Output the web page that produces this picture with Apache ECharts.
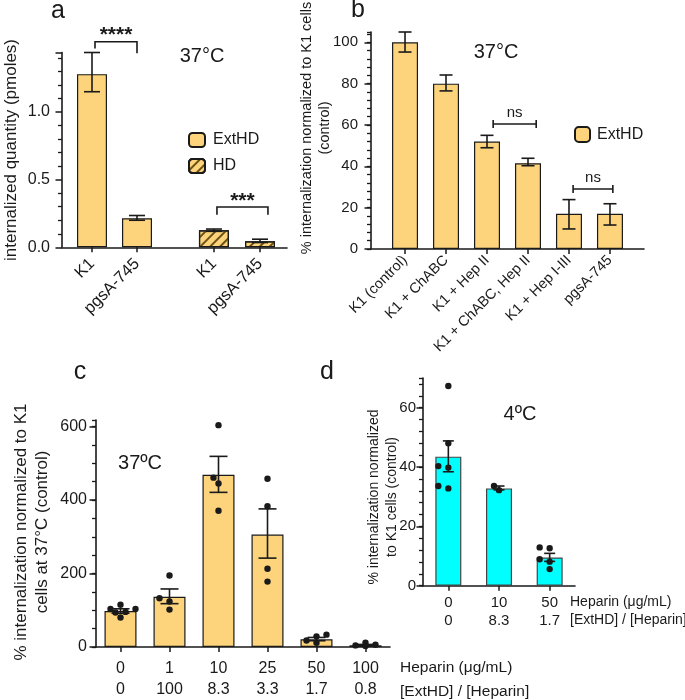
<!DOCTYPE html>
<html>
<head>
<meta charset="utf-8">
<script src="https://cdn.jsdelivr.net/npm/echarts@6/dist/echarts.min.js"></script>
<style>
  html, body { margin: 0; padding: 0; background: #fff; }
  #main { width: 685px; height: 700px; }
</style>
</head>
<body>
<div id="main"></div>
<script>
// panel a: internalized quantity (pmoles)
const aCats = ['K1', 'pgsA-745', 'K1', 'pgsA-745'];
const aExtHD = [1.28, 0.215];
const aHD = [0.126, 0.045];
const aExtHDErr = [[1.15, 1.44], [0.20, 0.235]];
const aHDErr = [[0.118, 0.135], [0.035, 0.06]];
const aTicks = [0, 0.5, 1.0];

// panel b: % internalization, ExtHD
const bCats = ['K1 (control)', 'K1 + ChABC', 'K1 + Hep II', 'K1 + ChABC, Hep II', 'K1 + Hep I-III', 'pgsA-745'];
const bValues = [100, 80, 52, 41.5, 17, 17];
const bErr = [[95.3, 105], [76.5, 84.2], [49, 55], [40.3, 43.9], [9.7, 23.9], [11.6, 21.9]];
const bTicks = [0, 20, 40, 60, 80, 100];

// panel c: heparin at 37C
const cHeparin = ['0', '1', '10', '25', '50', '100'];
const cRatio = ['0', '100', '8.3', '3.3', '1.7', '0.8'];
const cValues = [98, 137, 469, 306, 21, 5];
const cErr = [[92, 104], [118, 158], [421, 519], [242, 376], [17, 26], [3.5, 7]];
const cDots = [
  [80.5, 94, 95.6, 103.5, 103.5, 115],
  [101.8, 124, 132.7, 194.7],
  [371, 445, 461, 604],
  [178, 213, 383, 458],
  [11.5, 17.7, 29, 33.6],
  [2.7, 4.4, 6.2, 11.5]
];
const cTicks = [0, 200, 400, 600];

// panel d: heparin at 4C
const dHeparin = ['0', '10', '50'];
const dRatio = ['0', '8.3', '1.7'];
const dValues = [43.5, 32.8, 9.5];
const dErr = [[38.4, 48.8], [32.3, 33.6], [8.2, 10.9]];
const dDots = [
  [32.8, 33.6, 39.8, 40.3, 48, 67.3],
  [32.2, 33.6],
  [5.6, 8.1, 8.9, 12.6, 12.9]
];
const dTicks = [0, 20, 40, 60];

// layout
const FONT = '"Liberation Sans", Arial, sans-serif';
const INK = '#1a1a1a';
const YELLOW = '#FDD47C';
const CYAN = '#00FFFF';
const aSlots = [2, 5, 10.13, 13.2];
const bSlots = [0, 1, 2, 3, 4, 5];

// main axis: line, labels, long major ticks; twin axis: short ticks every minorStep
function yPair(grid, max, majors, minorStep, fmt, fontSize, margin) {
  return [
    {
      type: 'value', gridIndex: grid, position: 'left', min: 0, max: max,
      axisLine: { show: true, onZero: false, lineStyle: { color: INK, width: 1.6 } },
      axisTick: { show: true, customValues: majors, length: 6.5, lineStyle: { color: INK, width: 1.5 } },
      axisLabel: { customValues: majors, formatter: fmt, fontSize: fontSize, color: INK, fontFamily: FONT, margin: margin },
      splitLine: { show: false }
    },
    {
      type: 'value', gridIndex: grid, position: 'left', min: 0, max: max, interval: minorStep,
      axisLine: { show: false, onZero: false },
      axisTick: { show: true, length: 4, lineStyle: { color: INK, width: 1.3 } },
      axisLabel: { show: false },
      splitLine: { show: false }
    }
  ];
}

// panel a: a single axis, short ticks come from minorTick
function yMinor(grid, max, majors, majorStep, split, fmt, fontSize, margin) {
  return [{
    type: 'value', gridIndex: grid, position: 'left', min: 0, max: max, interval: majorStep,
    axisLine: { show: true, onZero: false, lineStyle: { color: INK, width: 1.6 } },
    axisTick: { show: true, length: 6.5, lineStyle: { color: INK, width: 1.5 } },
    minorTick: { show: true, splitNumber: split, length: 4, lineStyle: { color: INK, width: 1.3 } },
    axisLabel: { customValues: majors, formatter: fmt, fontSize: fontSize, color: INK, fontFamily: FONT, margin: margin },
    splitLine: { show: false }
  }];
}

function errRender(halfCap) {
  return function (params, api) {
    const x = api.value(0);
    const lo = api.coord([x, api.value(1)]);
    const hi = api.coord([x, api.value(2)]);
    const st = { stroke: INK, lineWidth: 1.6 };
    return {
      type: 'group', children: [
        { type: 'line', shape: { x1: lo[0], y1: lo[1], x2: hi[0], y2: hi[1] }, style: st },
        { type: 'line', shape: { x1: lo[0] - halfCap, y1: lo[1], x2: lo[0] + halfCap, y2: lo[1] }, style: st },
        { type: 'line', shape: { x1: hi[0] - halfCap, y1: hi[1], x2: hi[0] + halfCap, y2: hi[1] }, style: st }
      ]
    };
  };
}

// simple beeswarm so dots with close values sit side by side
const OFFSETS = [0, -5, 5, -10, 10, -15, 15];
function dotsRender(groups) {
  return function (params, api) {
    const idx = api.value(0);
    const pts = groups[idx].map(v => api.coord([idx, v]));
    const placed = [];
    pts.forEach(p => {
      let spot = null;
      for (const o of OFFSETS) {
        const x = p[0] + o;
        if (placed.every(q => Math.hypot(q[0] - x, q[1] - p[1]) >= 6)) { spot = [x, p[1]]; break; }
      }
      placed.push(spot || p);
    });
    return {
      type: 'group',
      children: placed.map(q => ({ type: 'circle', shape: { cx: q[0], cy: q[1], r: 3.2 }, style: { fill: INK } }))
    };
  };
}

const axisLine = { show: true, onZero: false, lineStyle: { color: INK, width: 1.6 } };
const tickDown = { show: true, length: 5, lineStyle: { color: INK, width: 1.5 } };
const barBorder = { borderColor: INK, borderWidth: 1.2 };

const option = {
  animation: false,
  textStyle: { fontFamily: FONT },
  grid: [
    { left: 62, top: 52.5, width: 225, height: 194.8 },
    { left: 371, top: 32, width: 273, height: 217 },
    { left: 96, top: 420, width: 294, height: 232.7 },
    { left: 423, top: 378, width: 152, height: 207.7 }
  ],
  xAxis: [
    {
      type: 'value', gridIndex: 0, min: 0, max: 15,
      axisLine: axisLine, splitLine: { show: false },
      axisTick: Object.assign({ customValues: aSlots }, tickDown),
      axisLabel: {
        customValues: aSlots, rotate: 45, margin: 14, fontSize: 16.5, color: INK, fontFamily: FONT,
        formatter: v => aCats[aSlots.indexOf(v)]
      }
    },
    {
      type: 'value', gridIndex: 1, min: -0.83, max: 5.83,
      axisLine: axisLine, splitLine: { show: false },
      axisTick: Object.assign({ customValues: bSlots }, tickDown),
      axisLabel: {
        customValues: bSlots, rotate: 45, margin: 9, fontSize: 14.5, color: INK, fontFamily: FONT,
        formatter: v => bCats[bSlots.indexOf(v)]
      }
    },
    {
      type: 'category', gridIndex: 2, data: cHeparin,
      axisLine: axisLine,
      axisTick: Object.assign({ alignWithLabel: true }, tickDown),
      axisLabel: {
        margin: 11, fontSize: 16, lineHeight: 21, color: INK, fontFamily: FONT,
        formatter: (v, i) => cHeparin[i] + '\n' + cRatio[i]
      }
    },
    {
      type: 'category', gridIndex: 3, data: dHeparin,
      axisLine: axisLine,
      axisTick: Object.assign({ alignWithLabel: true }, tickDown),
      axisLabel: {
        margin: 8, fontSize: 15, lineHeight: 18, color: INK, fontFamily: FONT,
        formatter: (v, i) => dHeparin[i] + '\n' + dRatio[i]
      }
    }
  ],
  yAxis: [].concat(
    yMinor(0, 1.44, aTicks, 0.5, 5, v => v.toFixed(1), 16, 12),
    yPair(1, 105, bTicks, 4, v => String(v), 15, 13),
    yPair(2, 618, cTicks, 50, v => String(v), 16, 9),
    yPair(3, 70, dTicks, 4, v => String(v), 15, 7)
  ),
  legend: [
    {
      left: 183, top: 127, orient: 'vertical', itemWidth: 16, itemHeight: 14, itemGap: 10,
      data: ['ExtHD', 'HD'], selectedMode: false,
      textStyle: { fontSize: 16, color: INK, fontFamily: FONT, padding: [0, 0, 0, 3] }
    },
    {
      left: 569, top: 121, itemWidth: 15, itemHeight: 15,
      data: ['ExtHD'], selectedMode: false,
      textStyle: { fontSize: 16, color: INK, fontFamily: FONT, padding: [0, 0, 0, 2] }
    }
  ],
  series: [
    {
      name: 'ExtHD', type: 'bar', xAxisIndex: 0, yAxisIndex: 0, barWidth: 30, barGap: '-100%',
      itemStyle: Object.assign({ color: YELLOW }, barBorder),
      data: aExtHD.map((v, i) => [aSlots[i], v])
    },
    {
      name: 'HD', type: 'bar', xAxisIndex: 0, yAxisIndex: 0, barWidth: 30, barGap: '-100%',
      itemStyle: Object.assign({
        color: YELLOW,
        decal: {
          symbol: 'rect', symbolSize: 1, dashArrayX: [1, 0], dashArrayY: [2, 4.5],
          rotation: -Math.PI / 4, color: '#6b5316'
        }
      }, barBorder),
      data: aHD.map((v, i) => [aSlots[i + 2], v])
    },
    {
      type: 'custom', xAxisIndex: 0, yAxisIndex: 0, renderItem: errRender(8), z: 5,
      data: aExtHDErr.concat(aHDErr).map((e, i) => [aSlots[i], e[0], e[1]])
    },
    {
      name: 'ExtHD', type: 'bar', xAxisIndex: 1, yAxisIndex: 1, barWidth: 26,
      itemStyle: Object.assign({ color: YELLOW }, barBorder),
      data: bValues.map((v, i) => [bSlots[i], v])
    },
    {
      type: 'custom', xAxisIndex: 1, yAxisIndex: 1, renderItem: errRender(6.5), z: 5,
      data: bErr.map((e, i) => [bSlots[i], e[0], e[1]])
    },
    {
      type: 'bar', xAxisIndex: 2, yAxisIndex: 3, barWidth: 32,
      itemStyle: Object.assign({ color: YELLOW }, barBorder),
      data: cValues
    },
    {
      type: 'custom', xAxisIndex: 2, yAxisIndex: 3, renderItem: dotsRender(cDots), z: 4,
      data: cValues.map((v, i) => [i, v])
    },
    {
      type: 'custom', xAxisIndex: 2, yAxisIndex: 3, renderItem: errRender(9), z: 5,
      data: cErr.map((e, i) => [i, e[0], e[1]])
    },
    {
      type: 'bar', xAxisIndex: 3, yAxisIndex: 5, barWidth: 26,
      itemStyle: { color: CYAN, borderColor: '#444', borderWidth: 1.2 },
      data: dValues
    },
    {
      type: 'custom', xAxisIndex: 3, yAxisIndex: 5, renderItem: dotsRender(dDots), z: 4,
      data: dValues.map((v, i) => [i, v])
    },
    {
      type: 'custom', xAxisIndex: 3, yAxisIndex: 5, renderItem: errRender(5.5), z: 5,
      data: dErr.map((e, i) => [i, e[0], e[1]])
    }
  ]
};

const chart = echarts.init(document.getElementById('main'));
chart.setOption(option);

// significance brackets, placed in data units of each panel
const aBrackets = [
  { x1: 2.2, x2: 5, y: 1.52, y1: 1.47, y2: 1.435, label: '****' },
  { x1: 10.33, x2: 13.73, y: 0.298, y1: 0.24, y2: 0.24, label: '***' }
];
const bBrackets = [
  { x1: 2.15, x2: 3.2, y: 60.5, label: 'ns' },
  { x1: 4.1, x2: 5.07, y: 29, label: 'ns' }
];

function txt(text, x, y, size, extra) {
  return Object.assign({
    type: 'text', x: x, y: y, silent: true,
    style: {
      text: text, fontSize: size, fontFamily: FONT, fill: INK, align: 'center', verticalAlign: 'middle',
      lineHeight: size * 1.25
    }
  }, extra || {});
}

const graphics = [];
const lineSt = { stroke: INK, lineWidth: 1.6, fill: null };
aBrackets.forEach(b => {
  const at = (x, y) => chart.convertToPixel({ xAxisIndex: 0, yAxisIndex: 0 }, [x, y]);
  const p1 = at(b.x1, b.y), p2 = at(b.x2, b.y), l1 = at(b.x1, b.y1), l2 = at(b.x2, b.y2);
  graphics.push({ type: 'polyline', silent: true, shape: { points: [l1, p1, p2, l2] }, style: lineSt });
  const t = txt(b.label, (p1[0] + p2[0]) / 2, p1[1] - 6, 21);
  t.style.fontWeight = 'bold';
  graphics.push(t);
});
bBrackets.forEach(b => {
  const at = (x, y) => chart.convertToPixel({ xAxisIndex: 1, yAxisIndex: 1 }, [x, y]);
  const p1 = at(b.x1, b.y), p2 = at(b.x2, b.y);
  graphics.push({ type: 'line', silent: true, shape: { x1: p1[0], y1: p1[1], x2: p2[0], y2: p2[1] }, style: lineSt });
  graphics.push({ type: 'line', silent: true, shape: { x1: p1[0], y1: p1[1] - 4, x2: p1[0], y2: p1[1] + 4 }, style: lineSt });
  graphics.push({ type: 'line', silent: true, shape: { x1: p2[0], y1: p2[1] - 4, x2: p2[0], y2: p2[1] + 4 }, style: lineSt });
  graphics.push(txt(b.label, (p1[0] + p2[0]) / 2, p1[1] - 11, 15));
});

const rot = { rotation: Math.PI / 2 };
graphics.push(
  txt('a', 58, 11, 25), txt('b', 358, 10, 25), txt('c', 80, 372, 25), txt('d', 327, 372, 25),
  txt('37°C', 202, 56, 20), txt('37°C', 496, 52, 20), txt('37ºC', 140, 463, 20), txt('4ºC', 520, 414, 20),
  txt('internalized quantity (pmoles)', 11, 150, 17, rot),
  txt('% internalization normalized to K1 cells\n(control)', 316, 128, 14.5, rot),
  txt('% internalization normalized to K1\ncells at 37°C (control)', 32, 532, 17, rot),
  txt('% internalization normalized\nto K1 cells (control)', 383, 497, 14, rot)
);
[['Heparin (μg/mL)', 400, 668, 15.5], ['[ExtHD] / [Heparin]', 400, 692, 15.5],
 ['Heparin (μg/mL)', 570, 602, 14], ['[ExtHD] / [Heparin]', 570, 620, 14]].forEach(r => {
  const t = txt(r[0], r[1], r[2], r[3]);
  t.style.align = 'left';
  graphics.push(t);
});
chart.setOption({ graphic: graphics });
</script>
</body>
</html>
